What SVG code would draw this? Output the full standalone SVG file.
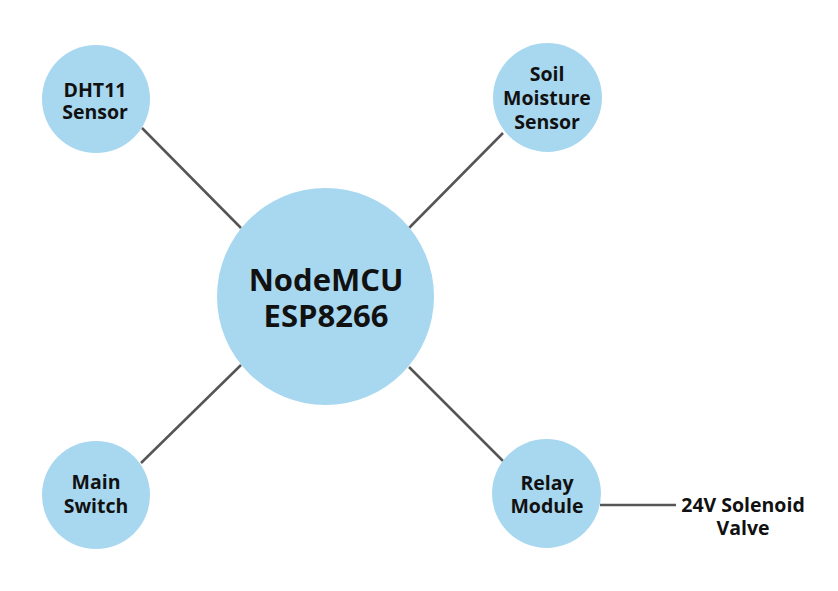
<svg xmlns="http://www.w3.org/2000/svg" width="838" height="591" viewBox="0 0 838 591">
<style>
.node{fill:#a8d8f0;}
.lbl{font-family:"Open Sans","Noto Sans",sans-serif;font-weight:700;fill:#111;text-anchor:middle;}
.sm{font-size:19.5px;}
.big{font-size:31px;}
.conn{stroke:#555;stroke-width:2.5;fill:none;}
</style>
<rect width="838" height="591" fill="#ffffff"/>
<g id="connectors">
<line class="conn" x1="142" y1="128" x2="241" y2="228"/>
<line class="conn" x1="503" y1="133" x2="409" y2="228"/>
<line class="conn" x1="141" y1="463" x2="241" y2="365"/>
<line class="conn" x1="409" y1="367" x2="503" y2="461"/>
<line class="conn" x1="600" y1="505" x2="676" y2="505"/>
</g>
<g id="nodemcu">
<circle class="node" cx="325.5" cy="296.5" r="108.5"/>
<text class="lbl big" x="326" y="291">NodeMCU</text>
<text class="lbl big" x="326" y="327">ESP8266</text>
</g>
<g id="dht11">
<circle class="node" cx="96" cy="99" r="54"/>
<text class="lbl sm" x="95" y="97">DHT11</text>
<text class="lbl sm" x="95" y="119">Sensor</text>
</g>
<g id="soil">
<circle class="node" cx="547.5" cy="97.5" r="54.5"/>
<text class="lbl sm" x="547" y="81">Soil</text>
<text class="lbl sm" x="547" y="105">Moisture</text>
<text class="lbl sm" x="547" y="129">Sensor</text>
</g>
<g id="mainswitch">
<circle class="node" cx="96" cy="495" r="54"/>
<text class="lbl sm" x="96" y="489">Main</text>
<text class="lbl sm" x="96" y="513">Switch</text>
</g>
<g id="relay">
<circle class="node" cx="546.5" cy="493.5" r="54.5"/>
<text class="lbl sm" x="547" y="490">Relay</text>
<text class="lbl sm" x="547" y="513">Module</text>
</g>
<g id="valve">
<text class="lbl sm" x="743" y="512">24V Solenoid</text>
<text class="lbl sm" x="743" y="535">Valve</text>
</g>
</svg>
